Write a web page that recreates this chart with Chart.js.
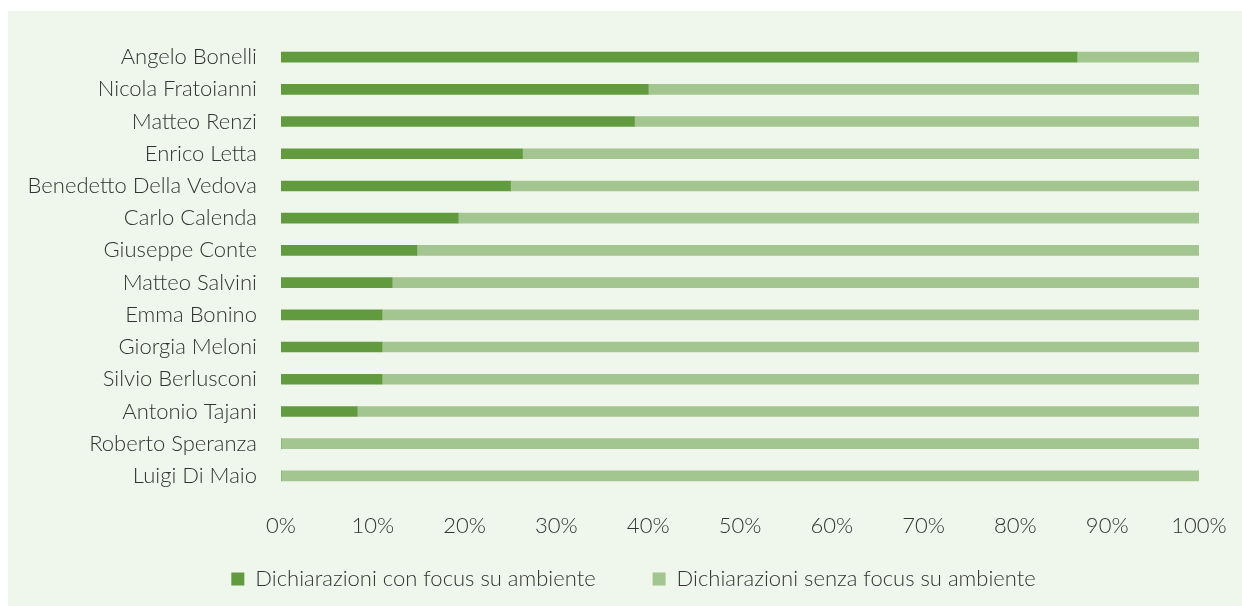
<!DOCTYPE html>
<html>
<head>
<meta charset="utf-8">
<script src="https://cdn.jsdelivr.net/npm/chart.js@4"></script>
<style>
  html, body { margin: 0; padding: 0; background: #ffffff; }
  #panel { position: absolute; left: 8px; top: 11px; width: 1234px; height: 595px; background: #eff6eb; }
  #chart { display: block; }
</style>
</head>
<body>
<div id="panel"><canvas id="chart" width="1234" height="595"></canvas></div>
<script>
// Share of statements per politician, percent
const politicians = [
  'Angelo Bonelli', 'Nicola Fratoianni', 'Matteo Renzi', 'Enrico Letta',
  'Benedetto Della Vedova', 'Carlo Calenda', 'Giuseppe Conte', 'Matteo Salvini',
  'Emma Bonino', 'Giorgia Meloni', 'Silvio Berlusconi', 'Antonio Tajani',
  'Roberto Speranza', 'Luigi Di Maio'
];
const withFocus = [86.7, 40.0, 38.5, 26.3, 25.0, 19.3, 14.8, 12.1, 11.0, 11.0, 11.0, 8.3, 0, 0];
const withoutFocus = withFocus.map(v => +(100 - v).toFixed(1));
const seriesNames = ['Dichiarazioni con focus su ambiente', 'Dichiarazioni senza focus su ambiente'];
const xTicks = [0, 10, 20, 30, 40, 50, 60, 70, 80, 90, 100];

const FONT = "Lato, sans-serif";
const SIZE = 22;
const TEXT = '#333333';

// Moves the legend sideways so it sits centred under the whole figure
const legendShift = {
  id: 'legendShift',
  afterLayout(chart, args, opts) {
    const lg = chart.legend;
    if (lg) { lg.left += opts.dx; lg.right += opts.dx; }
  }
};

new Chart(document.getElementById('chart'), {
  type: 'bar',
  data: {
    labels: politicians,
    datasets: [
      { label: seriesNames[0], data: withFocus, backgroundColor: '#629b3f', borderWidth: 0 },
      { label: seriesNames[1], data: withoutFocus, backgroundColor: '#a3c58f', borderWidth: 0 }
    ]
  },
  plugins: [legendShift],
  options: {
    indexAxis: 'y',
    responsive: false,
    animation: false,
    layout: { padding: { top: 30, right: 43, bottom: 6, left: 20 } },
    datasets: { bar: { barThickness: 10 } },
    scales: {
      x: {
        stacked: true, min: 0, max: 100,
        grid: { display: false, drawTicks: false }, border: { display: false },
        afterBuildTicks: axis => { axis.ticks = xTicks.map(v => ({ value: v })); },
        afterFit: axis => { axis.height = 19; },
        ticks: { mirror: true, padding: -47.2, color: TEXT, font: { family: FONT, size: SIZE, weight: 300 }, callback: v => v + '%' }
      },
      y: {
        stacked: true,
        grid: { display: false, drawTicks: false }, border: { display: false },
        afterFit: axis => { axis.width = 253; axis.paddingTop = 0; axis.paddingBottom = 0; },
        ticks: { padding: 24, color: TEXT, font: { family: FONT, size: SIZE, weight: 300 } }
      }
    },
    plugins: {
      legendShift: { dx: 20 },
      legend: {
        position: 'bottom',
        labels: { boxWidth: 13, boxHeight: 13, padding: 57, color: TEXT, font: { family: FONT, size: SIZE, weight: 300 } }
      },
      tooltip: { enabled: false }
    }
  }
});
</script>
</body>
</html>
